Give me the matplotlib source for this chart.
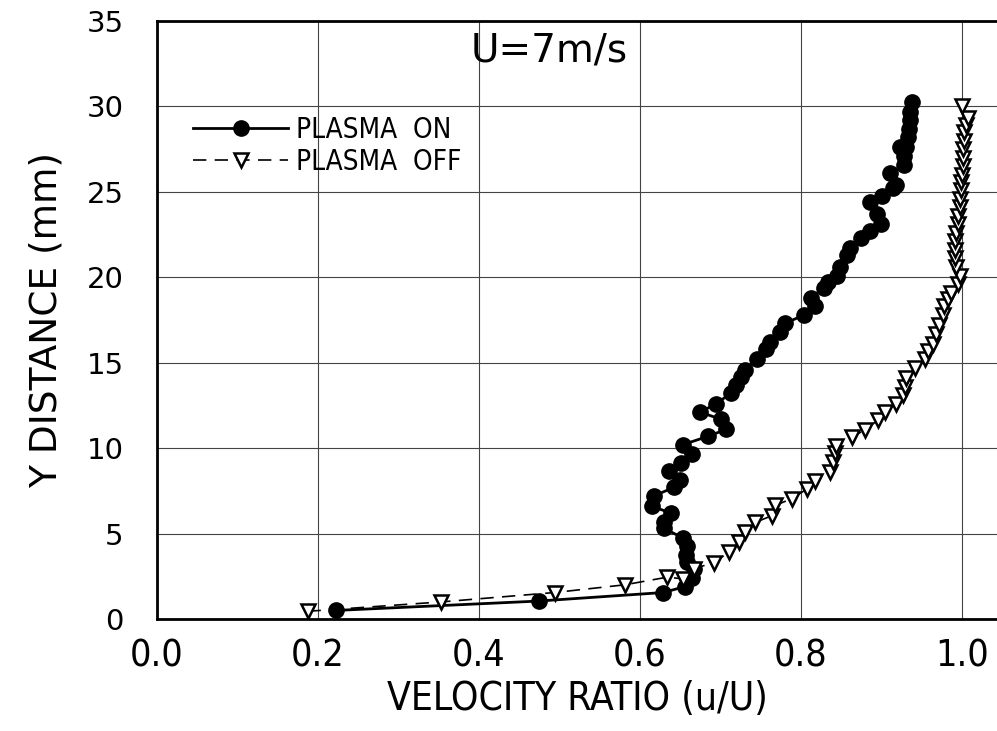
import matplotlib
matplotlib.use("Agg")
import matplotlib.pyplot as plt

# ---- data ----
on_x = [0.222, 0.474, 0.629, 0.656, 0.664, 0.667, 0.659, 0.657, 0.659, 0.653, 0.630, 0.630,
        0.638, 0.615, 0.617, 0.642, 0.650, 0.636, 0.651, 0.665, 0.653, 0.685, 0.707, 0.700,
        0.675, 0.694, 0.713, 0.719, 0.725, 0.731, 0.745, 0.756, 0.762, 0.774, 0.780, 0.804,
        0.817, 0.812, 0.829, 0.833, 0.845, 0.849, 0.857, 0.861, 0.874, 0.886, 0.899, 0.895,
        0.886, 0.900, 0.914, 0.918, 0.911, 0.928, 0.928, 0.923, 0.931, 0.933, 0.934, 0.935,
        0.936, 0.938]
on_y = [0.5, 1.05, 1.55, 1.9, 2.4, 2.9, 3.35, 3.75, 4.25, 4.75, 5.3, 5.7,
        6.2, 6.6, 7.2, 7.7, 8.15, 8.65, 9.15, 9.65, 10.2, 10.7, 11.1, 11.7,
        12.1, 12.6, 13.2, 13.7, 14.15, 14.6, 15.2, 15.8, 16.2, 16.8, 17.3, 17.8,
        18.3, 18.8, 19.4, 19.75, 20.1, 20.6, 21.3, 21.7, 22.3, 22.7, 23.1, 23.7,
        24.4, 24.75, 25.25, 25.4, 26.1, 26.6, 27.1, 27.6, 27.6, 28.2, 28.7, 29.2,
        29.65, 30.25]

off_x = [0.187, 0.353, 0.494, 0.581, 0.634, 0.653, 0.667, 0.692, 0.710, 0.723, 0.731, 0.743,
         0.764, 0.768, 0.789, 0.807, 0.818, 0.836, 0.840, 0.842, 0.844, 0.863, 0.879, 0.896,
         0.904, 0.918, 0.927, 0.929, 0.931, 0.941, 0.954, 0.958, 0.964, 0.968, 0.972, 0.976,
         0.978, 0.982, 0.986, 0.995, 0.997, 0.993, 0.991, 0.991, 0.991, 0.993, 0.995, 0.995,
         0.997, 0.997, 0.999, 0.999, 1.000, 1.001, 1.001, 1.001, 1.002, 1.003, 1.005, 1.007,
         1.000]
off_y = [0.45, 1.0, 1.55, 2.0, 2.45, 2.35, 2.95, 3.3, 3.9, 4.5, 5.1, 5.65,
         6.05, 6.65, 7.05, 7.6, 8.1, 8.6, 9.2, 9.7, 10.1, 10.65, 11.05, 11.65,
         12.1, 12.6, 13.1, 13.6, 14.1, 14.7, 15.2, 15.7, 16.1, 16.7, 17.2, 17.8,
         18.3, 18.7, 19.1, 19.6, 20.1, 20.6, 21.1, 21.6, 22.1, 22.6, 23.1, 23.6,
         24.1, 24.6, 25.1, 25.6, 26.0, 26.5, 27.0, 27.5, 28.0, 28.5, 28.9, 29.3,
         30.0]

x_ticks = [0.0, 0.2, 0.4, 0.6, 0.8, 1.0]
x_tick_labels = ["0.0", "0.2", "0.4", "0.6", "0.8", "1.0"]
y_ticks = [0, 5, 10, 15, 20, 25, 30, 35]
series_labels = ["PLASMA  ON", "PLASMA  OFF"]
annotation = "U=7m/s"
x_title = "VELOCITY RATIO (u/U)"
y_title = "Y DISTANCE (mm)"

cond = dict(fontfamily="DejaVu Sans", fontstretch="condensed")

fig = plt.figure(figsize=(9.97, 7.31), dpi=100)
W, H = 997.0, 731.0
left_px, right_px, top_px, bottom_px = 157, 997, 21, 619
ax = fig.add_axes([left_px / W, (H - bottom_px) / H, (right_px - left_px) / W, (bottom_px - top_px) / H])
x_max = (right_px - left_px) / 805.0
ax.set_xlim(0.0, x_max)
ax.set_ylim(0, 35)

ax.plot(on_x, on_y, color="black", lw=2.0, marker="o", ms=11, mfc="black", mec="black",
        label=series_labels[0], zorder=3)
ax.plot(off_x, off_y, color="black", lw=1.2, ls=(0, (8, 5)), marker="v", ms=9.5, mfc="white",
        mec="black", mew=1.8, label=series_labels[1], zorder=4)

ax.set_xticks(x_ticks)
ax.set_xticklabels(x_tick_labels, fontsize=27, **cond)
ax.set_yticks(y_ticks)
ax.set_yticklabels([str(v) for v in y_ticks], fontfamily="DejaVu Sans", fontsize=21)
ax.tick_params(axis="x", length=0, pad=14)
ax.tick_params(axis="y", length=0, pad=24)

ax.grid(True, color="#444444", lw=0.8)
ax.set_axisbelow(True)
for s in ["left", "bottom", "top"]:
    ax.spines[s].set_linewidth(2.0)
ax.spines["right"].set_visible(False)

ax.set_xlabel(x_title, fontsize=28, labelpad=4, **cond)
ax.set_ylabel(y_title, fontfamily="DejaVu Sans", fontsize=27, labelpad=16)

ax.text(0.39, 33.3, annotation, fontsize=28, va="center", ha="left", fontfamily="DejaVu Sans")

leg = ax.legend(loc="upper left", bbox_to_anchor=(0.03, 0.86), frameon=False,
                prop={"family": "DejaVu Sans", "stretch": "condensed", "size": 20},
                handlelength=3.4, handletextpad=0.3, labelspacing=0.15, borderaxespad=0)

fig.savefig("out.png", dpi=100)
